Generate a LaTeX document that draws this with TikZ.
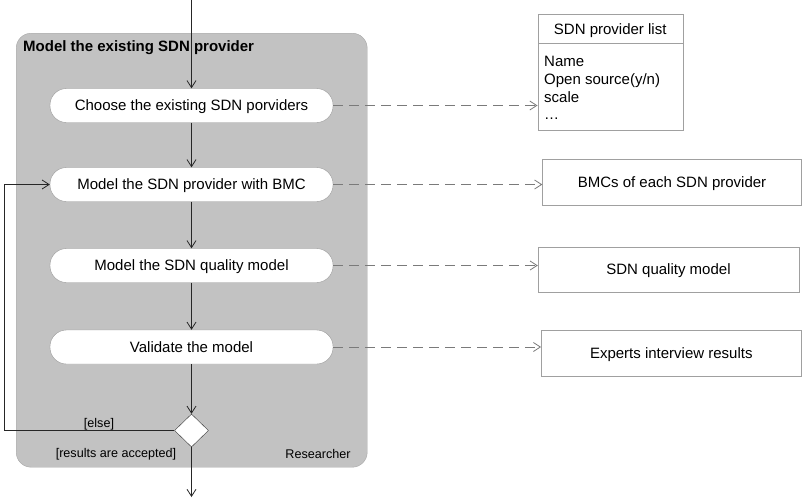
\documentclass[tikz,border=0pt]{standalone}
\usepackage{fontspec}
\setmainfont{Liberation Sans}
\usetikzlibrary{arrows.meta,shapes.geometric}
\definecolor{lanefill}{HTML}{C2C2C2}
\definecolor{laneedge}{HTML}{A6A6A6}
\definecolor{actedge}{HTML}{9A9A9A}
\definecolor{boxedge}{HTML}{A0A0A0}
\definecolor{depgray}{HTML}{7A7A7A}
\begin{document}
\begin{tikzpicture}[x=1pt,y=-1pt,
  txt/.style={font=\fontsize{15}{18}\selectfont},
  capcentred/.style={text height=10.8pt, text depth=0pt},
  small/.style={font=\fontsize{12.6}{15}\selectfont},
  act/.style={txt, capcentred, draw=actedge, fill=white, rounded corners=16.5pt,
    minimum width=283pt, minimum height=34pt, inner sep=0pt},
  artifact/.style={txt, capcentred, draw=boxedge, fill=white, minimum width=260pt,
    minimum height=46pt, inner sep=0pt},
  flow/.style={draw=black!85, line width=0.8pt,
    -{Straight Barb[length=7pt,width=9pt]}},
  dep/.style={draw=depgray, line width=0.8pt, dash pattern=on 10pt off 6pt,
    -{Straight Barb[length=7pt,width=9pt]}}]
\useasboundingbox (0,0) rectangle (802,499);

% swimlane of the researcher
\node (lane) [draw=laneedge, fill=lanefill, rounded corners=15pt,
  minimum width=351pt, minimum height=434pt, inner sep=0pt, anchor=north west]
  at (16,33) {};
\node (lanetitle) [anchor=west, font=\fontsize{15}{18}\selectfont\bfseries, inner sep=0pt]
  at (23,48) {Model the existing SDN provider};

% activities
\node[act] (a1) at (191.5,105.5) {Choose the existing SDN porviders};
\node[act] (a2) at (191.5,184.5) {Model the SDN provider with BMC};
\node[act] (a3) at (191.5,265.5) {Model the SDN quality model};
\node[act] (a4) at (191.5,347) {Validate the model};
\node (dec) [diamond, draw=black!80, fill=white, inner sep=0pt,
  minimum width=34pt, minimum height=33pt] at (191.5,430.5) {};

\node[small] (elselbl) at (99,424) {[else]};
\node[small] (acclbl) at (116,454) {[results are accepted]};
\node[small] (role) at (318,454) {Researcher};

% start and end of the flow, loop-back corner
\coordinate (start) at (191.5,0);
\coordinate (finish) at (191.5,497);
\coordinate (loopx) at (4,0);

\draw[flow] (start) -- (a1.north);
\draw[flow] (a1) -- (a2);
\draw[flow] (a2) -- (a3);
\draw[flow] (a3) -- (a4);
\draw[flow] (a4) -- (dec.north);
\draw[flow] (dec.south) -- (finish);
\draw[flow] (dec.west) -- (dec.west -| loopx) |- (a2.west);

% produced artifacts
\node (listhead) [txt, capcentred, draw=boxedge, fill=white, minimum width=145pt,
  minimum height=29pt, inner sep=0pt, anchor=north west] at (537.5,14)
  {SDN provider list};
\node (listbody) [draw=boxedge, fill=white, minimum width=145pt,
  minimum height=87pt, inner sep=0pt, anchor=north west] at (537.5,43) {};
\node (listitems) [txt, anchor=north west, align=left, inner sep=0pt,
  font=\fontsize{15}{17.6}\selectfont] at (544,56.3)
  {Name\\Open source(y/n)\\scale\\\dots};

\node[artifact, minimum width=259pt] (bmc) at (672,182) {BMCs of each SDN provider};
\node[artifact, minimum width=261pt, minimum height=45pt] (qm) at (668.5,269.5) {SDN quality model};
\node[artifact, minimum width=260pt, minimum height=45.5pt] (exp) at (671.3,353) {Experts interview results};

\draw[dep] (a1.east) -- (a1.east -| listbody.west);
\draw[dep] (a2.east) -- (a2.east -| bmc.west);
\draw[dep] (a3.east) -- (a3.east -| qm.west);
\draw[dep] (a4.east) -- (a4.east -| exp.west);
\end{tikzpicture}
\end{document}
